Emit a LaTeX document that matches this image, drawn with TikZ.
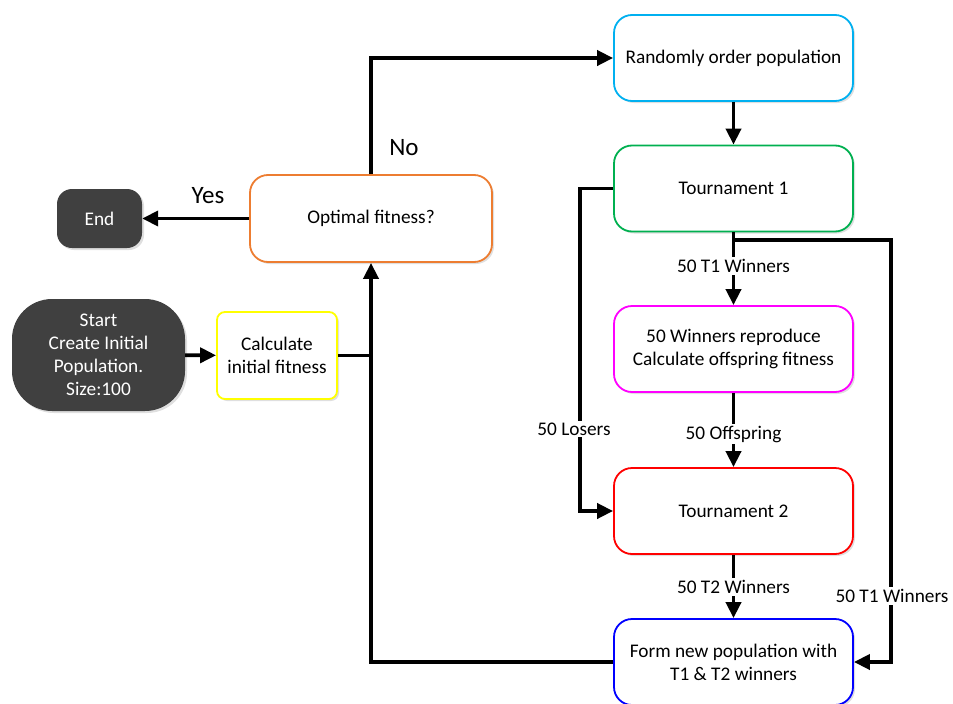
\documentclass[tikz,border=0pt]{standalone}
\usepackage{fontspec}
\setmainfont{Carlito}
\usetikzlibrary{arrows.meta,shadows}
\definecolor{cOrange}{HTML}{ED7D31}
\definecolor{cSky}{HTML}{00B0F0}
\definecolor{cGreen}{HTML}{00B050}
\definecolor{cMagenta}{HTML}{FF00FF}
\definecolor{cRed}{HTML}{FF0000}
\definecolor{cBlue}{HTML}{0000FF}
\definecolor{cYellow}{HTML}{FFFF00}
\definecolor{cDark}{HTML}{404040}
\begin{document}
\begin{tikzpicture}[x=1pt,y=-1pt,
  txt/.style={font=\fontsize{19.3}{23}\selectfont},
  box/.style={txt, draw, line width=1.8pt, rounded corners=18pt, fill=white,
    align=center, inner sep=2pt, minimum width=239pt, minimum height=86pt,
    drop shadow={shadow xshift=2pt, shadow yshift=-2pt, opacity=0.25}},
  term/.style={txt, fill=cDark, text=white, align=center, inner sep=2pt,
    drop shadow={shadow xshift=2pt, shadow yshift=-2pt, opacity=0.25}},
  wire/.style={line width=3.8pt},
  conn/.style={wire, -{Triangle[length=16pt,width=15pt]}},
  lbl/.style={txt, fill=white, inner sep=2pt},
  big/.style={font=\fontsize{25}{29}\selectfont}]
\useasboundingbox (0,0) rectangle (953,704);

% process boxes
\node[box, draw=cSky] (rand) at (733.5,58) {Randomly order population};
\node[box, draw=cGreen] (t1) at (733.5,188.5) {Tournament 1};
\node[box, draw=cMagenta] (rep) at (733.5,349) {50 Winners reproduce\\Calculate offspring fitness};
\node[box, draw=cRed] (t2) at (733.5,511) {Tournament 2};
\node[box, draw=cBlue] (form) at (733.5,662) {Form new population with\\T1 \& T2 winners};
\node[box, draw=cOrange, minimum width=242pt, minimum height=87pt] (opt) at (371,218.5) {Optimal fitness?};
\node[box, draw=cYellow, minimum width=120pt, minimum height=87pt, rounded corners=8pt] (calc) at (277,355.5) {Calculate\\initial fitness};

% terminals
\node[term, minimum width=85pt, minimum height=59pt, rounded corners=15pt] (end) at (99.5,218.5) {End};
\node[term, minimum width=173pt, minimum height=112pt, rounded corners=40pt] (start) at (98.5,355) {Start\\Create Initial\\Population.\\Size:100};

% connectors
\coordinate (lose) at (580,188.5);
\coordinate (split) at (733.5,240);
\coordinate (side) at (891,240);

\draw[conn] (start) -- (calc);
\draw[wire] (calc.east) -- (calc.east -| opt.south);
\draw[conn] (form.west) -| (opt.south);
\draw[conn] (opt.west) -- (end.east);
\draw[conn] (opt.north) |- (rand.west);
\draw[conn] (rand) -- (t1);
\draw[conn] (t1.west) -- (lose) |- (t2.west);
\draw[conn] (t1) -- (rep);
\draw[conn] (split) -- (side) |- (form.east);
\draw[conn] (rep) -- (t2);
\draw[conn] (t2) -- (form);

% connector labels
\node[big] (yes) at (208,196) {Yes};
\node[big] (no) at (404,148) {No};
\node[lbl] (l1) at (733.5,266) {50 T1 Winners};
\node[lbl] (l2) at (574,429) {50 Losers};
\node[lbl] (l3) at (733.5,434) {50 Offspring};
\node[lbl] (l4) at (733.5,587) {50 T2 Winners};
\node[lbl] (l5) at (892,596) {50 T1 Winners};
\end{tikzpicture}
\end{document}
